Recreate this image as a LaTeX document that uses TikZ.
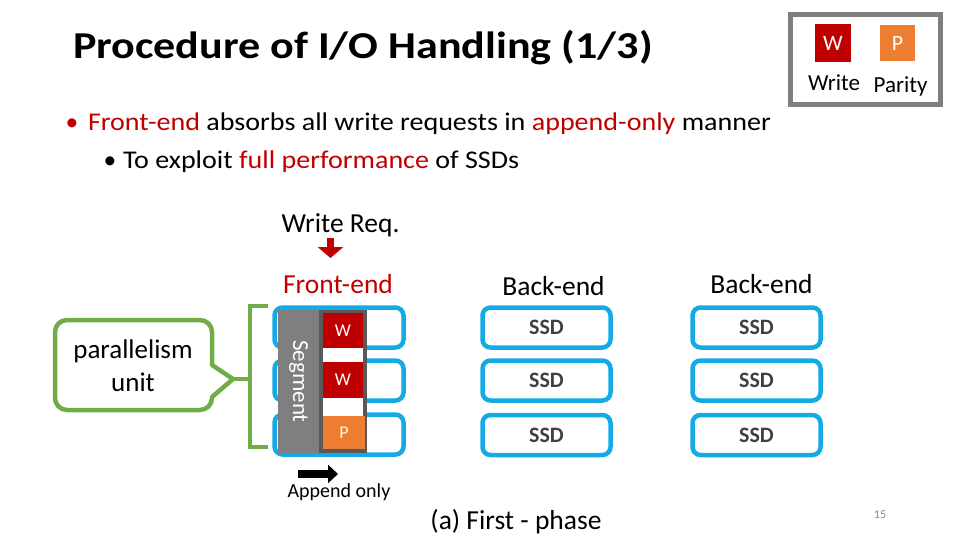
\documentclass[tikz,border=0pt]{standalone}
\usepackage{fontspec}
\setmainfont{Carlito}
\newfontfamily\titlefont[FakeStretch=1.16]{Carlito}
\newfontfamily\bulletfont[FakeStretch=1.1]{Carlito}
\usetikzlibrary{arrows.meta}
\definecolor{bluebox}{RGB}{20,170,230}
\definecolor{wred}{RGB}{192,0,0}
\definecolor{porange}{RGB}{237,125,49}
\definecolor{gbracket}{RGB}{112,173,71}
\definecolor{seggray}{RGB}{127,127,127}
\definecolor{coldark}{RGB}{89,89,89}
\definecolor{ssdtext}{RGB}{64,64,64}
\definecolor{pagenum}{RGB}{137,137,137}
\begin{document}
\begin{tikzpicture}[x=1pt,y=-1pt,
  every node/.style={inner sep=0pt,outer sep=0pt},
  ssdbox/.style={draw=bluebox,line width=4.5pt,rounded corners=8pt,minimum width=128pt,minimum height=40pt,font=\fontsize{22}{24}\selectfont\bfseries,text=ssdtext},
  febox/.style={draw=bluebox,line width=4.5pt,rounded corners=8pt,minimum width=129pt,minimum height=40pt},
  lbl/.style={anchor=base,font=\fontsize{27.5}{32}\selectfont},
  bul/.style={anchor=base west,font=\bulletfont\fontsize{25.5}{30}\selectfont},
  cell/.style={minimum width=40pt,text=white,font=\fontsize{18}{20}\selectfont},
  gline/.style={draw=gbracket,line width=4pt}]
\useasboundingbox (0,0) rectangle (960,540);
% title
\node[anchor=base west,font=\titlefont\fontsize{38}{44}\selectfont\bfseries] (title) at (73,59) {Procedure of I/O Handling (1/3)};
% legend
\node[draw=seggray,line width=5pt,minimum width=150pt,minimum height=90pt] (legend) at (865,59.5) {};
\node[fill=wred,minimum width=36pt,minimum height=38pt,text=white,font=\fontsize{22}{24}\selectfont] (lw) at (833,43) {W};
\node[fill=porange,minimum width=35pt,minimum height=36pt,text=white,font=\fontsize{22}{24}\selectfont] (lp) at (897.5,43) {P};
\node[anchor=base,font=\fontsize{23}{26}\selectfont] (lwt) at (834,91) {Write};
\node[anchor=base,font=\fontsize{23}{26}\selectfont] (lpt) at (900.5,93) {Parity};
% bullets
\node[anchor=base,font=\fontsize{25.5}{30}\selectfont,text=wred] (b1) at (72,131) {•};
\node[bul] (t1) at (88,131) {\textcolor{wred}{Front-end} absorbs all write requests in \textcolor{wred}{append-only} manner};
\node[anchor=base,font=\fontsize{25.5}{30}\selectfont] (b2) at (110,168) {•};
\node[bul] (t2) at (123,168) {To exploit \textcolor{wred}{full performance} of SSDs};
% labels
\node[lbl] (wreq) at (340.5,232) {Write Req.};
\node[lbl,text=wred] (fe) at (338,293) {Front-end};
\node[lbl] (be1) at (553.5,295) {Back-end};
\node[lbl] (be2) at (761.5,293) {Back-end};
\coordinate (wa1) at (330.5,238);
\coordinate (wa2) at (330.5,258);
\draw[wred,line width=7.5pt,-{Triangle[width=25pt,length=11pt]}] (wa1) -- (wa2);
% front-end boxes
\node[febox] (f1) at (339,327.5) {};
\node[febox] (f2) at (339,380.5) {};
\node[febox] (f3) at (339,434.5) {};
\node[fill=seggray,minimum width=143pt,minimum height=41pt,rotate=-90,text=white,font=\fontsize{23}{26}\selectfont] (seg) at (298.5,381.5) {Segment};
\node[fill=coldark,minimum width=48pt,minimum height=143pt] (col) at (343,381.5) {};
\node[cell,fill=wred,minimum height=35pt] (w1) at (343,330.5) {W};
\node[fill=white,minimum width=40pt,minimum height=14pt] (g1) at (343,355) {};
\node[cell,fill=wred,minimum height=36pt] (w2) at (343,380) {W};
\node[fill=white,minimum width=40pt,minimum height=18pt] (g2) at (343,407) {};
\node[cell,fill=porange,minimum width=42pt,minimum height=33pt,text=yellow!15] (p1) at (344,432.5) {P};
% back-end SSDs
\node[ssdbox] (s11) at (546.5,327.5) {SSD};
\node[ssdbox] (s12) at (546.5,380.5) {SSD};
\node[ssdbox] (s13) at (546.5,435) {SSD};
\node[ssdbox] (s21) at (756.5,327.5) {SSD};
\node[ssdbox] (s22) at (756.5,380.5) {SSD};
\node[ssdbox] (s23) at (756.5,435) {SSD};
% bracket
\coordinate (bt) at (268,306);
\coordinate (bb) at (268,447);
\coordinate (bm) at (250,379);
\coordinate (btip) at (233,379);
\draw[gline] (bt) -- (250,306) -- (250,447) -- (bb);
\draw[gline] (bm) -- (btip);
% callout
\draw[draw=gbracket,line width=4.5pt,fill=white,line join=round] (212,365) [rounded corners=12pt] -- (212,320) -- (55,320) -- (55,410) -- (212,410) [sharp corners] -- (212,397) -- (btip) -- cycle;
\node[align=center,font=\fontsize{27}{33}\selectfont] (pu) at (133,366) {parallelism\\unit};
% append
\coordinate (ap1) at (298,474);
\coordinate (ap2) at (338,474);
\draw[black,line width=8pt,-{Triangle[width=18pt,length=10pt]}] (ap1) -- (ap2);
\node[anchor=base,font=\fontsize{20}{24}\selectfont] (app) at (339,497) {Append only};
\node[lbl] (cap) at (516,529) {(a) First - phase};
\node[font=\fontsize{12}{14}\selectfont,text=pagenum] (pg) at (880,515) {15};
\end{tikzpicture}
\end{document}
